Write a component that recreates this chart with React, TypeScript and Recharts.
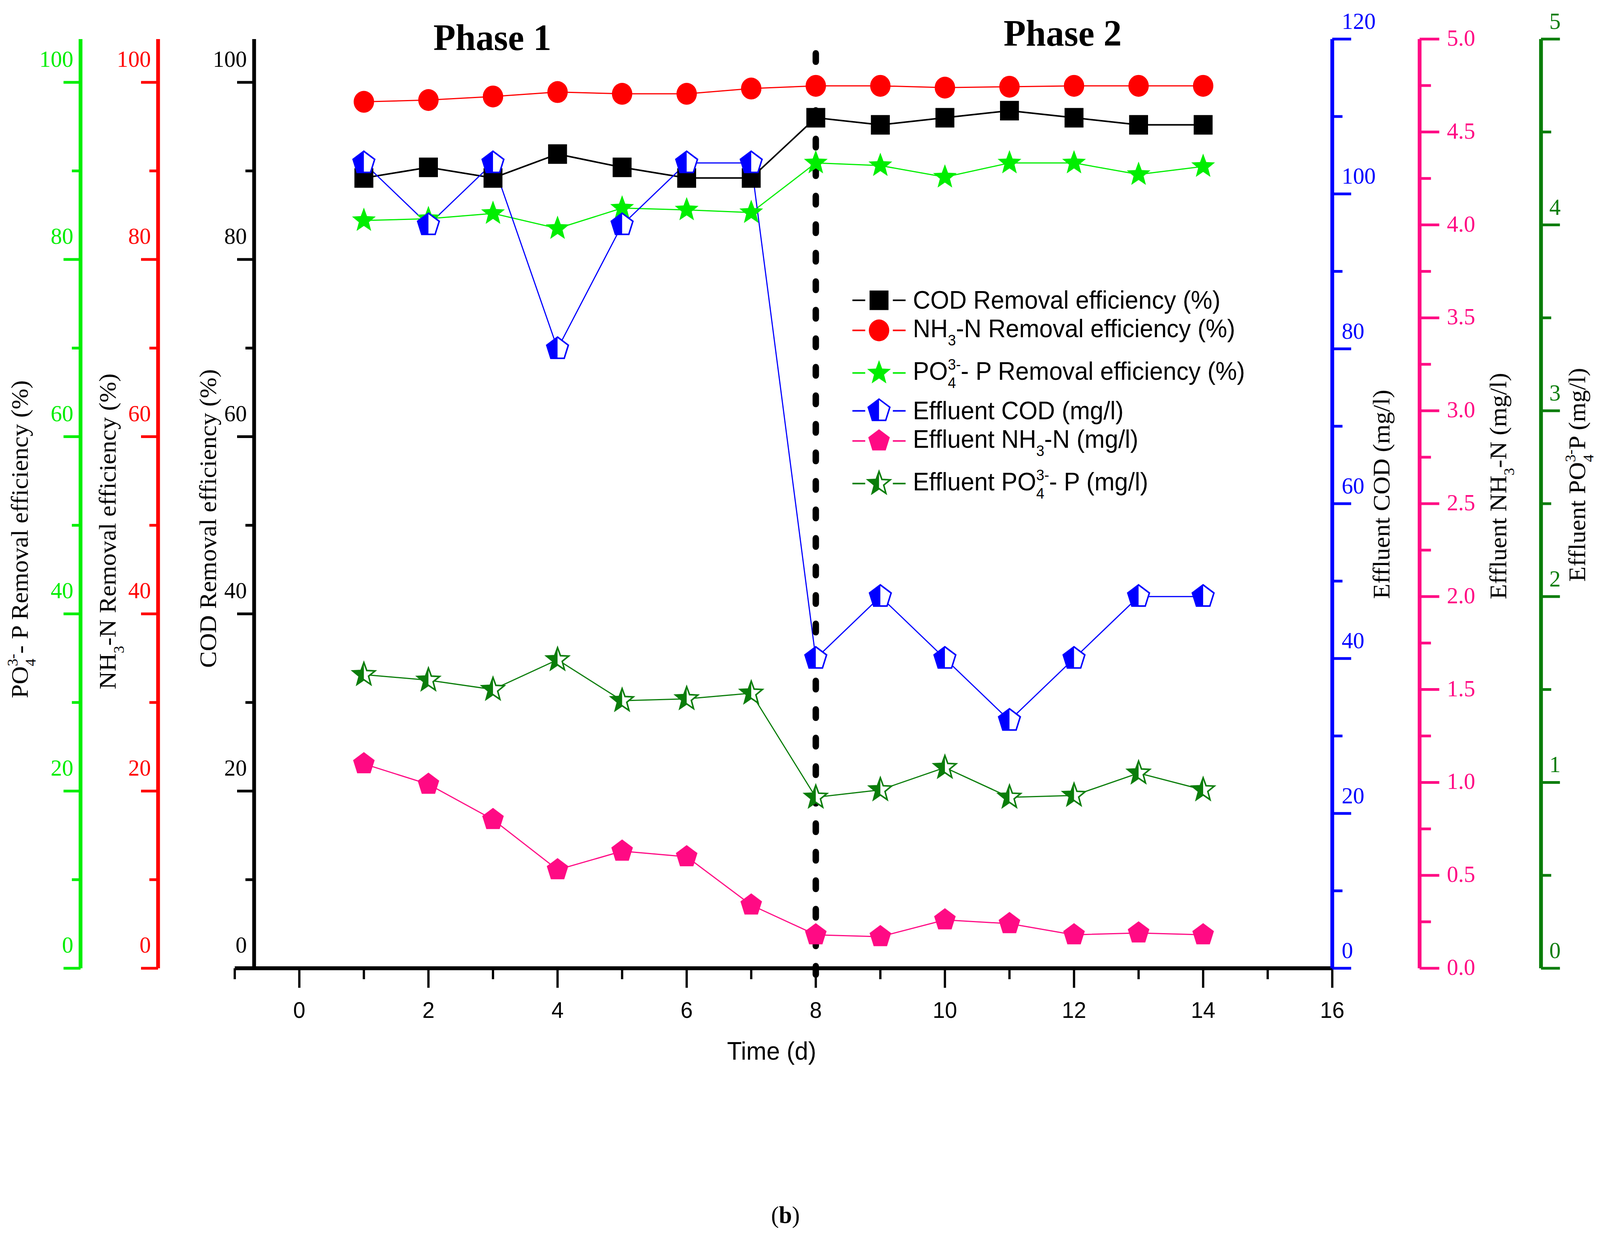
import React from 'react';
import { ComposedChart, Line, XAxis, YAxis, ReferenceLine, Legend } from 'recharts';

// sampling days
const days = [1, 2, 3, 4, 5, 6, 7, 8, 9, 10, 11, 12, 13, 14];

// removal efficiencies (%)
const codRemoval = [89.2, 90.4, 89.2, 91.9, 90.4, 89.2, 89.2, 96.0, 95.2, 96.0, 96.8, 96.0, 95.2, 95.2];
const nh3Removal = [97.8, 98.0, 98.4, 98.9, 98.7, 98.7, 99.3, 99.6, 99.6, 99.4, 99.5, 99.6, 99.6, 99.6];
const po4Removal = [84.4, 84.6, 85.2, 83.5, 85.8, 85.6, 85.3, 90.9, 90.6, 89.3, 90.9, 90.9, 89.6, 90.5];

// effluent concentrations (mg/l)
const effluentCod = [104, 96, 104, 80, 96, 104, 104, 40, 48, 40, 32, 40, 48, 48];
const effluentNh3 = [1.1, 0.99, 0.8, 0.53, 0.63, 0.6, 0.34, 0.18, 0.17, 0.26, 0.24, 0.18, 0.19, 0.18];
const effluentPo4 = [1.58, 1.55, 1.5, 1.66, 1.44, 1.45, 1.48, 0.92, 0.96, 1.08, 0.92, 0.93, 1.05, 0.96];

// ticks (minor + major) and the labelled ones
const timeTicks = [-1, 0, 1, 2, 3, 4, 5, 6, 7, 8, 9, 10, 11, 12, 13, 14, 15, 16];
const timeLabels = [0, 2, 4, 6, 8, 10, 12, 14, 16];
const pctTicks = [0, 10, 20, 30, 40, 50, 60, 70, 80, 90, 100];
const pctLabels = [0, 20, 40, 60, 80, 100];
const codTicks = [0, 10, 20, 30, 40, 50, 60, 70, 80, 90, 100, 110, 120];
const codLabels = [0, 20, 40, 60, 80, 100, 120];
const nh3Ticks = [0, 0.25, 0.5, 0.75, 1, 1.25, 1.5, 1.75, 2, 2.25, 2.5, 2.75, 3, 3.25, 3.5, 3.75, 4, 4.25, 4.5, 4.75, 5];
const nh3Labels = [0, 0.5, 1, 1.5, 2, 2.5, 3, 3.5, 4, 4.5, 5];
const po4Ticks = [0, 0.5, 1, 1.5, 2, 2.5, 3, 3.5, 4, 4.5, 5];
const po4Labels = [0, 1, 2, 3, 4, 5];

const phaseSwitchDay = 8;
const phaseNames = ['Phase 1', 'Phase 2'];

const W = 4231;
const H = 3176;

const SERIF = '"Liberation Serif", "Times New Roman", serif';
const SANS = '"Liberation Sans", Arial, sans-serif';

const BLACK = '#000000';
const RED = '#FF0000';
const LIME = '#00EE00';
const BLUE = '#0000FF';
const PINK = '#FF0A84';
const DKGREEN = '#0A7D0A';

const data = days.map((day, i) => ({
  day,
  cod: codRemoval[i],
  nh3: nh3Removal[i],
  po4: po4Removal[i],
  effCod: effluentCod[i],
  effNh3: effluentNh3[i],
  effPo4: effluentPo4[i],
}));

type Part = { t: string } | { sub: string; sup?: string };

// ---- marker shapes ----
const polar = (r: number, deg: number) => [r * Math.sin((deg * Math.PI) / 180), -r * Math.cos((deg * Math.PI) / 180)];
const toPts = (cx: number, cy: number, list: number[][]) => list.map(([x, y]) => `${cx + x},${cy + y}`).join(' ');
const pentagon = (R: number) => [0, 72, 144, 216, 288].map((a) => polar(R, a));
const pentagonLeft = (R: number) => [polar(R, 0), polar(R, 288), polar(R, 216), [0, R * Math.cos(Math.PI / 5)]];
const star = (R: number, r: number) => [0, 36, 72, 108, 144, 180, 216, 252, 288, 324].map((a, k) => polar(k % 2 ? r : R, a));
const starLeft = (R: number, r: number) => [polar(r, 180), polar(R, 216), polar(r, 252), polar(R, 288), polar(r, 324), polar(R, 360)];

const Marker = ({ kind, cx, cy, color }: { kind: string; cx: number; cy: number; color: string }) => {
  if (cx == null || cy == null) return null;
  switch (kind) {
    case 'square':
      return <rect x={cx - 25} y={cy - 25} width={50} height={50} fill={color} />;
    case 'circle':
      return <ellipse cx={cx} cy={cy} rx={27} ry={28} fill={color} />;
    case 'star':
      return <polygon points={toPts(cx, cy, star(33, 14))} fill={color} />;
    case 'pentagon':
      return <polygon points={toPts(cx, cy, pentagon(30))} fill={color} />;
    case 'halfPentagon':
      return (
        <g>
          <polygon points={toPts(cx, cy, pentagon(30))} fill="#fff" stroke={color} strokeWidth={4} />
          <polygon points={toPts(cx, cy, pentagonLeft(30))} fill={color} />
        </g>
      );
    case 'halfStar':
      return (
        <g>
          <polygon points={toPts(cx, cy, star(31, 13))} fill="#fff" stroke={color} strokeWidth={4} />
          <polygon points={toPts(cx, cy, starLeft(31, 13))} fill={color} />
        </g>
      );
    default:
      return null;
  }
};

// legend / title text with chemical sub- and superscripts
const series = [
  { key: 'cod', kind: 'square', color: BLACK, sub: false, sup: false, label: [{ t: 'COD Removal efficiency (%)' }] as Part[] },
  { key: 'nh3', kind: 'circle', color: RED, sub: true, sup: false, label: [{ t: 'NH' }, { sub: '3' }, { t: '-N Removal efficiency (%)' }] as Part[] },
  { key: 'po4', kind: 'star', color: LIME, sub: true, sup: true, label: [{ t: 'PO' }, { sub: '4', sup: '3-' }, { t: '- P Removal efficiency (%)' }] as Part[] },
  { key: 'effCod', kind: 'halfPentagon', color: BLUE, sub: false, sup: false, label: [{ t: 'Effluent COD (mg/l)' }] as Part[] },
  { key: 'effNh3', kind: 'pentagon', color: PINK, sub: true, sup: false, label: [{ t: 'Effluent NH' }, { sub: '3' }, { t: '-N (mg/l)' }] as Part[] },
  { key: 'effPo4', kind: 'halfStar', color: DKGREEN, sub: true, sup: true, label: [{ t: 'Effluent PO' }, { sub: '4', sup: '3-' }, { t: '- P (mg/l)' }] as Part[] },
];

const HtmlRich = ({ parts }: { parts: Part[] }) => (
  <>
    {parts.map((p, i) =>
      't' in p ? (
        <span key={i}>{p.t}</span>
      ) : (
        <span key={i} style={{ fontSize: '0.6em' }}>
          <span style={{ position: 'relative', top: '0.55em' }}>{p.sub}</span>
          {p.sup && (
            <span style={{ position: 'relative', top: '-0.68em', marginLeft: `${-0.556 * p.sub.length}em` }}>{p.sup}</span>
          )}
        </span>
      )
    )}
  </>
);

const svgParts = (parts: Part[], size: number) => {
  const small = size * 0.6;
  const out: React.ReactNode[] = [];
  let shift = 0;
  parts.forEach((p, i) => {
    if ('t' in p) {
      out.push(<tspan key={i} dy={shift ? -shift : undefined}>{p.t}</tspan>);
      shift = 0;
    } else {
      const down = small * 0.55;
      out.push(<tspan key={`${i}b`} fontSize={small} dy={down - shift}>{p.sub}</tspan>);
      shift = down;
      if (p.sup) {
        const up = -small * 0.68;
        out.push(
          <tspan key={`${i}p`} fontSize={small} dx={-0.5 * small * p.sub.length} dy={up - shift}>{p.sup}</tspan>
        );
        shift = up;
      }
    }
  });
  return out;
};

const AxisTitle = (props: any) => {
  const { viewBox, dx, cy, color, parts } = props;
  if (!viewBox) return null;
  const cx = viewBox.x + dx;
  return (
    <text transform={`translate(${cx + 21},${cy}) rotate(-90)`} textAnchor="middle" fill={color} fontFamily={SERIF} fontSize={64}>
      {svgParts(parts, 64)}
    </text>
  );
};

const makeTick =
  (side: 'left' | 'right', color: string, labels: number[], fmt: (v: number) => string, major: number, minor: number, labelDx: number, labelDy: number) =>
  (props: any) => {
    const { x, y, payload } = props;
    const v = payload.value;
    const isMajor = labels.includes(v);
    const dir = side === 'left' ? -1 : 1;
    return (
      <g key={`tick-${v}`}>
        <line x1={x} x2={x + dir * (isMajor ? major : minor)} y1={y} y2={y} stroke={color} strokeWidth={7} />
        {isMajor && (
          <text x={x + dir * labelDx} y={y + labelDy} dy="0.35em" textAnchor={side === 'left' ? 'end' : 'start'} fill={color} fontFamily={SERIF} fontSize={60}>
            {fmt(v)}
          </text>
        )}
      </g>
    );
  };

const TimeTick = (props: any) => {
  const { x, y, payload } = props;
  const isMajor = timeLabels.includes(payload.value);
  return (
    <g key={`time-${payload.value}`}>
      <line x1={x} x2={x} y1={y} y2={y + (isMajor ? 50 : 28)} stroke={BLACK} strokeWidth={6} />
      {isMajor && (
        <text x={x} y={y + 127} textAnchor="middle" fill={BLACK} fontFamily={SANS} fontSize={58}>
          {payload.value}
        </text>
      )}
    </g>
  );
};

const renderLegend = (props: any) => {
  const shown = new Set((props.payload ?? []).map((e: any) => e.dataKey));
  return (
    <div style={{ fontFamily: SANS, fontSize: 64, color: BLACK }}>
      {series
        .filter((s) => shown.has(s.key))
        .map((s) => (
          <div
            key={s.key}
            style={{ display: 'flex', alignItems: 'center', height: 77, paddingTop: s.sup ? 12 : 0, paddingBottom: s.sub ? 20 : 0, whiteSpace: 'nowrap' }}
          >
            <svg width={141} height={77} style={{ flex: 'none' }}>
              <line x1={0} x2={34} y1={38.5} y2={38.5} stroke={s.color} strokeWidth={4} />
              <line x1={107} x2={141} y1={38.5} y2={38.5} stroke={s.color} strokeWidth={4} />
              <Marker kind={s.kind} cx={70.5} cy={38.5} color={s.color} />
            </svg>
            <span style={{ marginLeft: 19, lineHeight: '77px' }}>
              <HtmlRich parts={s.label} />
            </span>
          </div>
        ))}
    </div>
  );
};

const dotFor = (kind: string, color: string) => (p: any) => <Marker key={`${kind}-${p.index}`} kind={kind} cx={p.cx} cy={p.cy} color={color} />;

export default function App() {
  // the browser may give a narrower viewport than asked for: stretch the figure onto it
  const vw = typeof window !== 'undefined' ? window.innerWidth : W;
  const vh = typeof window !== 'undefined' ? window.innerHeight : H;
  const sx = vw > 0 ? Math.min(1, vw / W) : 1;
  const sy = vh > 0 ? Math.min(1, vh / H) : 1;
  if (typeof document !== 'undefined') {
    document.documentElement.style.overflow = 'hidden';
    document.body.style.overflow = 'hidden';
  }

  return (
    <div
      style={{
        position: 'absolute',
        left: 0,
        top: 0,
        width: W,
        height: H,
        background: '#fff',
        transform: `scale(${sx}, ${sy})`,
        transformOrigin: '0 0',
      }}
    >
      <ComposedChart width={W} height={H} data={data} margin={{ top: 100, right: 0, bottom: 448, left: 0 }}>
        <XAxis
          dataKey="day"
          type="number"
          domain={[-0.7, 16]}
          allowDataOverflow
          ticks={timeTicks}
          interval={0}
          height={250}
          axisLine={false}
          tickLine={false}
          tickSize={0}
          tickMargin={0}
          tick={TimeTick}
          label={(p: any) =>
            p.viewBox ? (
              <text x={p.viewBox.x + p.viewBox.width / 2 - 57} y={p.viewBox.y + 234} textAnchor="middle" fontFamily={SANS} fontSize={64} fill={BLACK}>
                Time (d)
              </text>
            ) : null
          }
        />
        <YAxis
          yAxisId="cod"
          orientation="left"
          width={254}
          domain={[0, 104.88]}
          allowDataOverflow
          ticks={pctTicks}
          interval={0}
          axisLine={{ stroke: BLACK, strokeWidth: 10 }}
          tickLine={false}
          tickSize={0}
          tickMargin={0}
          tick={makeTick('left', BLACK, pctLabels, String, 45, 23, 19, -61)}
          label={(p: any) => <AxisTitle {...p} dx={132} cy={1327} color={BLACK} parts={series[0].label} />}
        />
        <YAxis
          yAxisId="nh3"
          orientation="left"
          width={205}
          domain={[0, 104.88]}
          allowDataOverflow
          ticks={pctTicks}
          interval={0}
          axisLine={{ stroke: RED, strokeWidth: 10 }}
          tickLine={false}
          tickSize={0}
          tickMargin={0}
          tick={makeTick('left', RED, pctLabels, String, 45, 23, 19, -61)}
          label={(p: any) => <AxisTitle {...p} dx={72} cy={1360} color={BLACK} parts={series[1].label} />}
        />
        <YAxis
          yAxisId="po4"
          orientation="left"
          width={213}
          domain={[0, 104.88]}
          allowDataOverflow
          ticks={pctTicks}
          interval={0}
          axisLine={{ stroke: LIME, strokeWidth: 10 }}
          tickLine={false}
          tickSize={0}
          tickMargin={0}
          tick={makeTick('left', LIME, pctLabels, String, 45, 23, 19, -61)}
          label={(p: any) => <AxisTitle {...p} dx={52} cy={1380} color={BLACK} parts={series[2].label} />}
        />
        <YAxis
          yAxisId="effCod"
          orientation="right"
          width={231}
          domain={[0, 120]}
          allowDataOverflow
          ticks={codTicks}
          interval={0}
          axisLine={{ stroke: BLUE, strokeWidth: 10 }}
          tickLine={false}
          tickSize={0}
          tickMargin={0}
          tick={makeTick('right', BLUE, codLabels, String, 50, 27, 25, -47)}
          label={(p: any) => <AxisTitle {...p} dx={130} cy={1265} color={BLACK} parts={series[3].label} />}
        />
        <YAxis
          yAxisId="effNh3"
          orientation="right"
          width={321}
          domain={[0, 5]}
          allowDataOverflow
          ticks={nh3Ticks}
          interval={0}
          axisLine={{ stroke: PINK, strokeWidth: 10 }}
          tickLine={false}
          tickSize={0}
          tickMargin={0}
          tick={makeTick('right', PINK, nh3Labels, (v) => v.toFixed(1), 52, 30, 72, -4)}
          label={(p: any) => <AxisTitle {...p} dx={208} cy={1244} color={BLACK} parts={series[4].label} />}
        />
        <YAxis
          yAxisId="effPo4"
          orientation="right"
          width={156}
          domain={[0, 5]}
          allowDataOverflow
          ticks={po4Ticks}
          interval={0}
          axisLine={{ stroke: DKGREEN, strokeWidth: 10 }}
          tickLine={false}
          tickSize={0}
          tickMargin={0}
          tick={makeTick('right', DKGREEN, po4Labels, String, 50, 27, 22, -47)}
          label={(p: any) => <AxisTitle {...p} dx={96} cy={1215} color={BLACK} parts={[{ t: 'Effluent PO' }, { sub: '4', sup: '3-' }, { t: 'P (mg/l)' }]} />}
        />

        <ReferenceLine yAxisId="cod" segment={[{ x: -1, y: 0 }, { x: 16, y: 0 }]} ifOverflow="visible" stroke={BLACK} strokeWidth={10} />

        <Line yAxisId="cod" dataKey="cod" name="COD Removal efficiency (%)" stroke={BLACK} strokeWidth={4} dot={dotFor('square', BLACK)} activeDot={false} isAnimationActive={false} />
        <Line yAxisId="nh3" dataKey="nh3" name="NH3-N Removal efficiency (%)" stroke={RED} strokeWidth={3} dot={dotFor('circle', RED)} activeDot={false} isAnimationActive={false} />
        <Line yAxisId="po4" dataKey="po4" name="PO4 3- - P Removal efficiency (%)" stroke={LIME} strokeWidth={3} dot={dotFor('star', LIME)} activeDot={false} isAnimationActive={false} />
        <Line yAxisId="effCod" dataKey="effCod" name="Effluent COD (mg/l)" stroke={BLUE} strokeWidth={3} dot={dotFor('halfPentagon', BLUE)} activeDot={false} isAnimationActive={false} />
        <Line yAxisId="effNh3" dataKey="effNh3" name="Effluent NH3-N (mg/l)" stroke={PINK} strokeWidth={3} dot={dotFor('pentagon', PINK)} activeDot={false} isAnimationActive={false} />
        <Line yAxisId="effPo4" dataKey="effPo4" name="Effluent PO4 3- - P (mg/l)" stroke={DKGREEN} strokeWidth={3} dot={dotFor('halfStar', DKGREEN)} activeDot={false} isAnimationActive={false} />

        <ReferenceLine
          yAxisId="cod"
          segment={[{ x: phaseSwitchDay, y: -0.7 }, { x: phaseSwitchDay, y: 104.88 }]}
          ifOverflow="visible"
          stroke={BLACK}
          strokeWidth={17}
          strokeDasharray="21 52"
          strokeLinecap="round"
        />

        <Legend layout="vertical" align="center" verticalAlign="middle" wrapperStyle={{ left: 2254, top: 730, width: 1300 }} content={renderLegend} />
      </ComposedChart>

      <svg width={W} height={H} style={{ position: 'absolute', left: 0, top: 0, pointerEvents: 'none' }}>
        <text x={1302} y={128} textAnchor="middle" fontFamily={SERIF} fontWeight="bold" fontSize={96} fill={BLACK}>
          {phaseNames[0]}
        </text>
        <text x={2810} y={117} textAnchor="middle" fontFamily={SERIF} fontWeight="bold" fontSize={96} fill={BLACK}>
          {phaseNames[1]}
        </text>
        <text x={2077} y={3130} textAnchor="middle" fontFamily={SERIF} fontSize={62} fill={BLACK}>
          (<tspan fontWeight="bold">b</tspan>)
        </text>
      </svg>
    </div>
  );
}
